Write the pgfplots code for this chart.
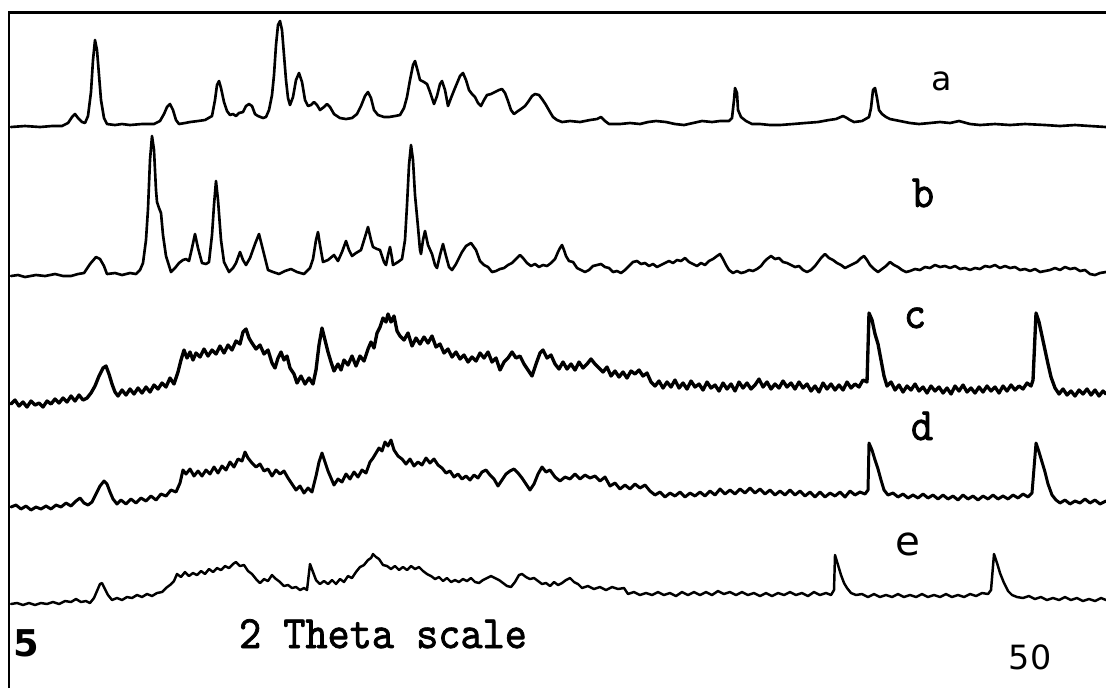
\documentclass[border=0pt]{standalone}
\usepackage{pgfplots}
\pgfplotsset{compat=1.18}
\usepackage{fontspec}
\newfontfamily\dvs{DejaVu Sans}
\newfontfamily\cour{lmmono10-regular.otf}[FakeBold=1.6]

% positions in pixels (x to the right, y downwards), 1px = 0.2mm
\begin{document}
\begin{tikzpicture}
\begin{axis}[
  scale only axis, width=221.2mm, height=137.6mm,
  xmin=0, xmax=1106, ymin=0, ymax=688, y dir=reverse,
  hide axis, clip=false,
  every axis plot/.append style={black, mark=none, line join=round, line cap=round},
]
% trace a
\addplot[line width=1.5pt] table {
x y
11 127
25 126
40 127
52 126
62 126
68 123
72 117
75 114
78 118
82 122
85 123
88 116
91 92
93 60
95 40
97 50
99 75
101 100
104 118
107 124
115 125
122 124
130 125
142 124
154 124
160 121
164 114
167 107
170 104
173 110
176 120
179 124
185 123
190 122
198 121
205 120
212 116
215 100
217 85
219 81
221 88
224 102
227 111
230 115
233 114
236 116
239 113
243 112
246 106
249 104
252 106
255 114
258 116
263 118
266 117
269 110
272 95
274 75
276 45
278 25
280 21
282 30
284 55
286 80
288 98
290 105
293 97
296 80
299 73
302 82
305 100
308 106
311 105
314 102
317 105
320 110
324 107
327 104
330 107
334 114
340 118
346 119
352 118
357 114
361 106
365 96
368 92
371 98
374 110
378 115
384 117
389 117
395 116
400 115
404 108
407 97
410 80
413 65
415 61
418 72
420 80
424 82
427 84
430 92
434 104
437 96
440 84
442 81
445 90
448 106
451 98
455 88
460 76
463 73
466 80
469 90
472 94
475 97
478 103
481 106
484 100
487 95
491 94
495 92
499 90
502 89
505 93
508 101
511 110
514 114
518 111
521 109
525 106
528 102
532 96
535 94
539 95
542 99
546 105
550 112
553 117
557 120
562 122
570 121
580 122
590 120
597 119
601 117
605 121
609 124
620 124
630 123
640 124
648 122
656 121
666 122
675 124
684 125
693 123
702 121
712 122
720 121
729 121
732 118
734 100
735 88
737 93
738 110
741 117
746 121
752 124
760 124
770 125
780 125
793 124
805 123
818 122
829 120
836 119
843 116
847 118
850 120
854 122
862 121
869 117
871 108
873 90
875 88
877 98
879 110
882 114
886 117
890 119
900 121
910 123
919 124
930 123
940 122
950 123
959 121
970 124
980 125
995 124
1010 125
1025 124
1045 125
1060 126
1075 125
1090 126
1106 127
};
% trace b
\addplot[line width=1.5pt] table {
x y
11 276
18 275
25 277
36 275
45 276
55 274
63 276
71 276
78 274
84 273
90 264
96 257
100 259
104 266
107 274
115 273
122 275
130 273
136 274
140 270
143 263
146 240
148 209
150 160
152 136
154 150
156 190
157 202
159 208
161 213
163 235
166 256
171 272
175 268
179 263
183 260
186 259
189 261
192 248
195 234
198 248
202 263
206 264
209 262
212 235
214 205
216 181
218 200
221 240
224 262
229 272
233 268
236 263
240 252
243 260
246 265
250 258
255 244
259 234
263 250
268 270
273 272
279 274
285 271
291 269
297 272
304 274
310 268
313 259
316 240
318 232
320 245
323 262
328 260
334 255
338 261
342 252
346 241
349 250
352 256
356 253
361 250
365 237
368 227
371 240
373 247
377 249
380 250
384 262
386 265
388 255
390 247
392 258
393 265
398 262
402 259
405 240
407 205
409 165
411 145
413 160
415 195
418 227
420 250
421 254
423 240
425 231
428 245
432 254
435 265
437 268
440 255
443 244
446 256
449 267
452 270
456 264
462 252
466 246
471 243
476 250
480 261
484 265
488 267
492 272
496 271
500 269
504 268
508 265
512 263
516 259
520 255
523 258
527 263
531 266
535 264
539 267
543 265
547 266
551 263
555 259
558 252
560 248
562 245
564 250
566 256
569 261
573 262
577 268
581 270
585 272
589 270
593 266
597 265
601 264
605 267
609 268
613 272
617 271
621 273
625 270
629 266
633 262
637 261
641 264
645 263
649 266
653 264
657 267
661 265
665 263
669 261
673 263
677 260
681 261
685 258
689 262
693 264
697 266
701 263
705 265
709 261
713 259
717 256
720 254
723 259
726 265
729 270
733 273
737 271
741 273
745 272
749 270
753 271
757 269
761 266
764 262
767 259
771 256
775 259
779 258
783 262
787 263
791 265
795 267
799 266
803 270
807 272
811 270
815 266
818 262
821 258
825 254
829 258
833 260
837 263
841 265
845 268
849 266
853 264
857 262
861 258
864 256
867 260
870 265
874 269
878 272
882 269
886 266
890 262
894 265
898 267
902 270
906 272
910 271
915 269
920 270
925 267
930 268
935 265
940 267
945 266
950 268
955 266
960 269
965 268
970 270
975 268
980 269
985 266
990 267
995 265
1000 268
1005 266
1010 268
1015 267
1020 270
1025 269
1030 271
1035 269
1040 272
1045 271
1050 270
1055 268
1060 270
1065 267
1070 269
1075 268
1080 271
1085 270
1090 274
1095 275
1100 273
1106 272
};
% trace c
\addplot[line width=1.9pt] table {
x y
11 404
15 400
19 406
23 402
27 407
31 401
35 405
39 403
43 407
47 401
51 404
55 399
59 403
63 398
67 402
71 396
75 401
79 395
83 400
87 398
91 393
95 386
99 376
103 368
106 366
109 374
112 384
115 392
118 396
122 390
126 395
130 389
134 394
138 388
142 393
146 387
150 392
154 385
158 389
162 383
166 387
170 378
174 384
178 372
181 360
184 350
187 358
190 352
193 360
196 353
200 357
204 349
208 356
212 350
216 354
220 346
224 353
228 345
232 350
236 341
240 344
243 332
246 329
249 338
252 343
256 349
260 345
264 354
268 350
272 363
275 368
278 358
281 352
284 360
287 356
290 368
294 374
297 383
301 376
305 384
309 378
313 384
316 370
319 345
322 328
325 340
328 352
331 362
334 371
338 364
341 370
344 360
348 365
352 356
356 366
360 356
364 361
368 349
371 342
374 348
377 333
380 327
383 318
386 322
388 314
391 322
394 316
397 331
400 336
404 340
408 333
412 346
416 338
420 344
424 337
428 343
432 336
436 347
440 344
444 353
448 349
452 357
456 352
460 359
464 355
468 362
472 357
476 361
480 353
484 358
488 352
492 362
496 358
500 370
504 362
508 358
512 352
516 358
520 356
524 364
528 370
532 376
536 364
540 353
543 350
547 358
551 355
555 364
559 369
563 362
567 369
571 364
575 370
579 362
583 368
587 364
591 359
595 364
599 368
603 372
607 367
611 376
615 371
619 377
623 372
627 378
631 371
635 374
639 370
643 376
647 373
651 382
655 386
659 381
663 388
667 382
671 387
675 380
679 388
683 383
687 389
691 381
695 387
699 384
703 390
707 382
711 388
715 385
719 391
723 383
727 389
731 384
735 391
739 382
743 388
747 383
751 389
755 385
759 379
763 387
767 382
771 389
775 384
779 388
783 381
787 387
791 383
795 389
799 382
803 388
807 384
811 391
815 386
819 392
823 383
827 389
831 384
835 390
839 385
843 390
847 382
851 388
855 384
859 387
863 380
867 382
869 313
872 320
875 334
878 344
881 360
884 376
887 386
891 382
895 390
899 385
903 392
907 386
911 390
915 384
919 391
923 387
927 393
931 386
935 391
939 387
943 393
947 388
951 394
955 386
959 391
963 385
967 392
971 388
975 393
979 387
983 392
987 386
991 391
995 387
999 393
1003 386
1007 391
1011 385
1015 390
1019 386
1023 389
1027 383
1031 386
1033 380
1036 313
1039 322
1042 336
1045 350
1048 364
1051 377
1055 388
1059 394
1063 389
1067 395
1071 391
1075 396
1079 390
1083 394
1087 389
1091 395
1095 390
1099 396
1103 391
1106 394
};
% trace d
\addplot[line width=1.7pt] table {
x y
11 507
16 505
21 509
26 506
31 510
36 507
41 509
46 506
51 509
56 505
61 507
66 503
71 506
76 501
80 498
84 503
88 505
92 502
96 494
100 486
104 481
107 484
110 492
113 499
117 504
121 500
126 504
131 499
136 503
141 498
146 501
151 496
156 500
161 494
166 496
171 490
176 492
180 483
183 470
186 474
190 469
194 476
198 471
202 476
206 470
210 474
214 467
218 473
222 466
226 470
230 462
234 467
238 459
242 461
245 452
248 458
252 463
256 467
260 464
264 471
268 469
272 476
276 470
280 474
284 471
288 478
292 484
296 490
300 486
304 493
308 488
312 492
316 476
319 462
322 453
325 462
328 471
331 478
334 485
338 479
342 482
346 474
350 479
354 472
358 477
362 470
366 473
370 462
373 458
376 453
379 448
382 451
385 442
388 446
391 440
394 450
398 456
402 459
406 464
410 459
414 466
418 462
422 465
426 458
430 463
434 459
438 465
442 468
446 473
450 471
454 477
458 474
462 479
466 476
470 480
474 475
478 478
482 472
486 470
490 475
494 479
498 486
502 480
506 474
510 471
514 469
518 473
522 478
526 484
530 490
534 484
538 474
542 467
546 472
550 470
555 477
560 481
565 477
570 479
575 474
580 479
585 475
590 478
595 476
600 481
605 477
610 486
615 483
620 489
625 485
630 489
635 484
640 488
645 485
650 491
655 495
660 492
665 497
670 493
675 496
680 492
685 497
690 493
695 496
700 492
705 496
710 491
715 495
720 489
725 494
730 490
735 494
740 489
745 493
750 488
755 493
760 489
765 494
770 490
775 495
780 491
785 495
790 490
795 495
800 491
805 496
810 492
815 497
820 492
825 497
830 493
835 496
840 492
845 497
850 491
855 495
860 492
865 494
868 490
869 443
872 450
875 460
878 469
881 480
884 490
888 495
893 493
898 497
903 494
908 498
913 495
918 498
923 494
928 498
933 495
938 499
943 495
948 499
953 496
958 500
963 495
968 499
973 496
978 500
983 496
988 499
993 495
998 499
1003 496
1008 499
1013 495
1018 498
1023 494
1028 497
1032 493
1036 443
1039 452
1042 462
1045 472
1048 484
1052 495
1056 500
1060 503
1065 500
1070 504
1075 501
1080 503
1085 499
1090 503
1095 500
1100 504
1106 501
};
% trace e
\addplot[line width=1.4pt] table {
x y
11 604
17 603
23 605
29 603
35 605
41 603
47 604
53 602
59 604
65 601
71 602
76 599
81 602
86 601
90 603
94 598
97 591
100 584
102 583
105 589
108 595
112 600
117 598
122 600
127 597
132 598
137 595
142 597
147 594
152 596
157 593
162 592
166 588
170 585
174 581
177 574
181 577
185 572
189 576
193 573
197 575
201 571
205 574
209 569
213 572
217 568
221 570
225 566
229 568
233 564
236 562
240 566
244 565
248 571
252 574
256 579
260 583
264 579
268 581
272 575
276 579
280 582
284 586
288 585
292 588
296 587
300 590
304 588
307 590
310 564
313 572
316 580
320 584
324 581
328 584
332 580
336 584
340 579
344 582
348 576
352 578
356 572
360 567
364 565
368 560
371 558
373 554
376 557
379 559
383 565
387 566
391 569
395 566
399 570
403 567
407 570
411 566
415 569
419 567
423 571
427 574
431 576
435 579
439 577
443 581
447 578
451 582
455 580
459 582
463 579
467 581
471 578
475 582
479 583
483 580
487 578
491 576
495 578
499 580
503 583
507 586
511 587
515 582
519 575
522 574
526 577
530 579
534 578
538 581
542 584
546 583
550 586
554 582
558 585
562 583
566 580
570 578
574 582
578 584
582 588
588 586
594 589
600 587
606 590
612 587
618 589
624 588
628 594
634 592
640 595
646 593
652 595
658 592
664 595
670 593
676 596
682 592
688 595
694 592
700 595
706 592
712 595
718 591
724 594
730 592
736 595
742 592
748 595
754 593
760 596
766 593
772 596
778 593
784 595
790 592
796 595
802 593
808 596
814 592
820 595
826 593
831 595
834 590
835 555
838 565
841 575
844 583
847 588
851 593
856 595
862 594
868 597
874 594
880 597
886 595
892 597
898 594
904 597
910 595
916 597
922 594
928 597
934 595
940 597
946 594
952 597
958 595
964 597
970 594
976 596
982 593
988 594
991 590
994 554
997 563
1000 573
1004 583
1008 591
1012 595
1017 597
1023 598
1029 596
1035 599
1041 597
1047 600
1053 598
1059 600
1065 597
1071 600
1077 598
1083 601
1089 599
1095 601
1101 598
1106 600
};
% frame: top and left edges only
\draw[line width=1.7pt] (axis cs:9,688) -- (axis cs:9,12) -- (axis cs:1106,12);
% labels
\node[anchor=base] at (axis cs:942,90) {\dvs\fontsize{19}{19}\selectfont a};
\node[anchor=base] at (axis cs:923,207) {\scalebox{1}[1.1]{\cour\fontsize{24}{24}\selectfont b}};
\node[anchor=base] at (axis cs:915,328) {\scalebox{1}[1.1]{\cour\fontsize{24}{24}\selectfont c}};
\node[anchor=base] at (axis cs:922,440) {\scalebox{1}[1.1]{\cour\fontsize{24}{24}\selectfont d}};
\node[anchor=base] at (axis cs:908,555) {\dvs\fontsize{23}{23}\selectfont e};
\node[anchor=base] at (axis cs:26,656) {\dvs\bfseries\fontsize{21}{21}\selectfont 5};
\node[anchor=base] at (axis cs:383,648) {\scalebox{1}[1.1]{\cour\fontsize{24}{24}\selectfont 2 Theta scale}};
\node[anchor=base] at (axis cs:1030,669) {\dvs\fontsize{19}{19}\selectfont 50};
\end{axis}
\pgfresetboundingbox
\useasboundingbox (0,0) rectangle (221.2mm,137.6mm);
\end{tikzpicture}
\end{document}
